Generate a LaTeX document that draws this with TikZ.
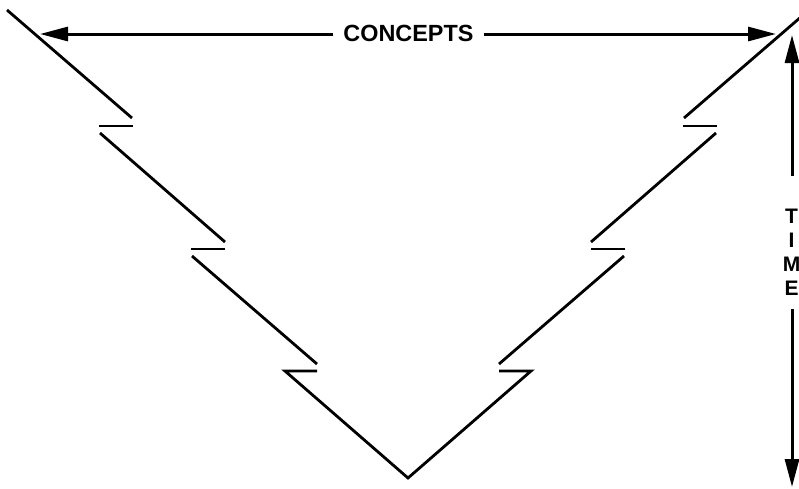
\documentclass[tikz,border=0pt]{standalone}
\usepackage{fontspec}
\setmainfont{Liberation Sans}
\usetikzlibrary{arrows.meta}
\begin{document}
\begin{tikzpicture}[x=1pt,y=-1pt,
  vee/.style={line width=2.8pt, line cap=butt, line join=miter},
  arr/.style={line width=3pt, -{Triangle[length=28pt,width=14pt]}},
  lbl/.style={font=\bfseries\fontsize{23.4}{26}\selectfont, fill=white, inner xsep=10pt, inner ysep=0pt},
  vlbl/.style={font=\bfseries\fontsize{21}{24}\selectfont, fill=white, align=center, inner sep=0pt}]
\useasboundingbox (0,0) rectangle (799,488);
\clip (0,0) rectangle (799,488);
% left zigzag
\draw[vee] (7,10) -- (132,118);
\draw[vee] (99,126) -- (133,126);
\draw[vee] (100,133) -- (225,242);
\draw[vee] (191,249) -- (225,249);
\draw[vee] (192,256) -- (317,364);
\draw[vee] (317,371) -- (285,371) -- (408,478) -- (531,371) -- (499,371);
% right zigzag
\draw[vee] (809,10) -- (684,118);
\draw[vee] (717,126) -- (683,126);
\draw[vee] (716,133) -- (591,242);
\draw[vee] (625,249) -- (591,249);
\draw[vee] (624,256) -- (499,364);
% concepts arrow
\node[lbl] (concepts) at (408.5,33) {CONCEPTS};
\coordinate (cl) at (40,34);
\coordinate (cr) at (776,34);
\draw[arr] (concepts.west |- cl) -- (cl);
\draw[arr] (concepts.east |- cr) -- (cr);
% time arrow
\node[vlbl] (time) at (791.5,252.5) {T\\I\\M\\E};
\coordinate (tt) at (792,35);
\coordinate (tb) at (792,487);
\draw[arr] ([yshift=33pt]time.north -| tt) -- (tt);
\draw[arr] ([yshift=-13pt]time.south -| tb) -- (tb);
\end{tikzpicture}
\end{document}
